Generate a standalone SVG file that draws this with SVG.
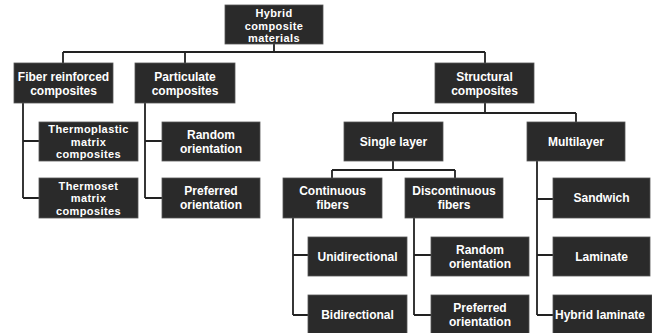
<svg xmlns="http://www.w3.org/2000/svg" width="652" height="333" viewBox="0 0 652 333">
<style>
.b{fill:#2a2a2a;stroke:#555;stroke-width:0.8}
.t{fill:#fff;font-family:"Liberation Sans",Arial,sans-serif;font-weight:bold;font-size:12px;text-anchor:middle}
.s{font-size:11px;letter-spacing:0.4px}
.c{fill:none;stroke:#222;stroke-width:1.8}
</style>
<rect width="652" height="333" fill="#fff"/>
<g id="connectors" class="c">
<path d="M274 44V52M63 52H485M63 52V63M185 52V63M485 52V63"/>
<path d="M23 103V198M23 141H39M23 198H39"/>
<path d="M145 103V198M145 141H162M145 198H162"/>
<path d="M485 103V113M393 113H576M393 113V122M576 113V122"/>
<path d="M393 161V170M332 170H455M332 170V178M455 170V178"/>
<path d="M293 218V315M293 255H308M293 315H308"/>
<path d="M414 218V315M414 255H431M414 315H431"/>
<path d="M537 161V315M537 199H553M537 255H553M537 315H553"/>
</g>
<g id="hybrid"><rect class="b" x="225" y="5" width="98" height="39"/><text class="t s" x="274" y="17">Hybrid</text><text class="t s" x="274" y="29.5">composite</text><text class="t s" x="274" y="42">materials</text></g>
<g id="fiber"><rect class="b" x="14" y="63" width="99" height="40"/><text class="t" x="63.5" y="81">Fiber reinforced</text><text class="t" x="63.5" y="94.5">composites</text></g>
<g id="particulate"><rect class="b" x="135" y="63" width="100" height="40"/><text class="t" x="185" y="81">Particulate</text><text class="t" x="185" y="94.5">composites</text></g>
<g id="structural"><rect class="b" x="435" y="63" width="99" height="40"/><text class="t" x="484.5" y="81">Structural</text><text class="t" x="484.5" y="94.5">composites</text></g>
<g id="thermoplastic"><rect class="b" x="39" y="122" width="99" height="39"/><text class="t s" x="88.5" y="133">Thermoplastic</text><text class="t s" x="88.5" y="145.5">matrix</text><text class="t s" x="88.5" y="158">composites</text></g>
<g id="thermoset"><rect class="b" x="39" y="178" width="99" height="40"/><text class="t s" x="88.5" y="189.5">Thermoset</text><text class="t s" x="88.5" y="202">matrix</text><text class="t s" x="88.5" y="214.5">composites</text></g>
<g id="random1"><rect class="b" x="162" y="122" width="98" height="39"/><text class="t" x="211" y="139">Random</text><text class="t" x="211" y="152.5">orientation</text></g>
<g id="preferred1"><rect class="b" x="162" y="178" width="98" height="40"/><text class="t" x="211" y="195">Preferred</text><text class="t" x="211" y="208.5">orientation</text></g>
<g id="single"><rect class="b" x="344" y="122" width="99" height="39"/><text class="t" x="393.5" y="145.5">Single layer</text></g>
<g id="multi"><rect class="b" x="527" y="122" width="98" height="39"/><text class="t" x="576" y="145.5">Multilayer</text></g>
<g id="continuous"><rect class="b" x="283" y="178" width="99" height="40"/><text class="t" x="332.5" y="195">Continuous</text><text class="t" x="332.5" y="208.5">fibers</text></g>
<g id="discontinuous"><rect class="b" x="405" y="178" width="98" height="40"/><text class="t" x="454" y="195">Discontinuous</text><text class="t" x="454" y="208.5">fibers</text></g>
<g id="sandwich"><rect class="b" x="553" y="178" width="97" height="40"/><text class="t" x="601.5" y="202">Sandwich</text></g>
<g id="unidirectional"><rect class="b" x="308" y="237" width="99" height="39"/><text class="t" x="357.5" y="260.5">Unidirectional</text></g>
<g id="bidirectional"><rect class="b" x="308" y="295" width="99" height="39"/><text class="t" x="357.5" y="318.5">Bidirectional</text></g>
<g id="random2"><rect class="b" x="431" y="237" width="98" height="39"/><text class="t" x="480" y="254">Random</text><text class="t" x="480" y="267.5">orientation</text></g>
<g id="preferred2"><rect class="b" x="431" y="295" width="98" height="39"/><text class="t" x="480" y="312">Preferred</text><text class="t" x="480" y="325.5">orientation</text></g>
<g id="laminate"><rect class="b" x="553" y="237" width="97" height="39"/><text class="t" x="601.5" y="260.5">Laminate</text></g>
<g id="hybridlaminate"><rect class="b" x="553" y="295" width="99" height="39"/><text class="t" x="600" y="318.5">Hybrid laminate</text></g>
</svg>
